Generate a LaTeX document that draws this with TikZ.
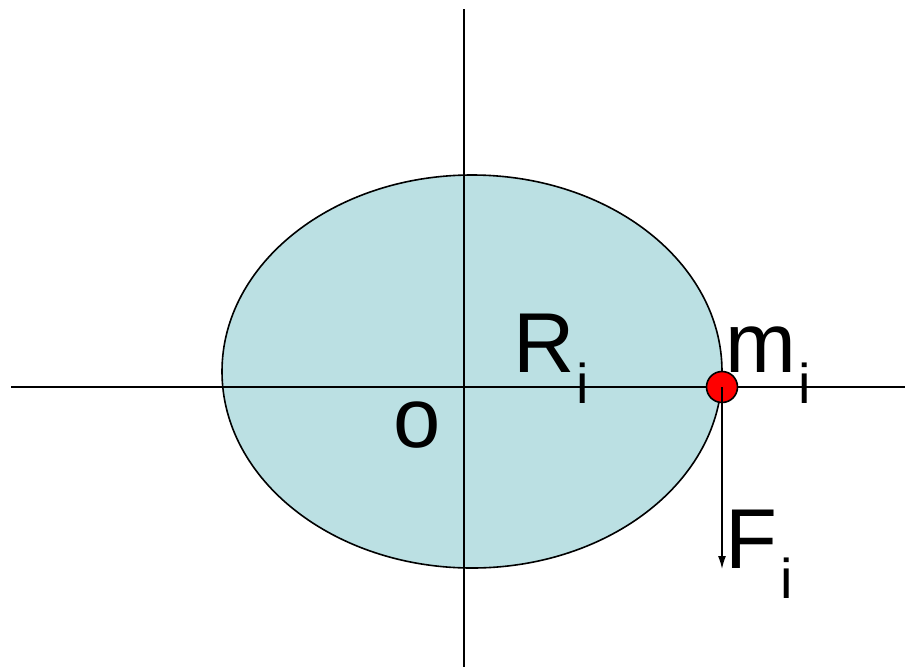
\documentclass[tikz,border=0pt]{standalone}
\usepackage{fontspec}
\setmainfont{Liberation Sans}
\usetikzlibrary{arrows.meta}
\definecolor{diskblue}{HTML}{BBE0E3}
\tikzset{
  axis/.style={line width=1.6pt, black},
  big/.style={anchor=base west, inner sep=0pt, font=\fontsize{85}{100}\selectfont},
  sub/.style={anchor=base west, inner sep=0pt, font=\fontsize{56}{66}\selectfont},
  force/.style={line width=1.4pt, -{Latex[length=13pt,width=8pt]}},
}
\begin{document}
\begin{tikzpicture}[x=1pt,y=-1pt]
\useasboundingbox (0,0) rectangle (905,667);
\draw[fill=diskblue, line width=1.6pt] (472,371.5) ellipse [x radius=250, y radius=196.5];
\coordinate (xl) at (11,387);
\coordinate (xr) at (905,387);
\coordinate (yt) at (464,9);
\coordinate (yb) at (464,667);
\draw[axis] (xl) -- (xr);
\draw[axis] (yt) -- (yb);
\node[circle, fill=red, draw=black, line width=1.6pt, minimum size=31pt, inner sep=0pt] (m) at (722,387) {};
\coordinate (ftip) at (722,569);
\draw[force] (m.center) -- (ftip);
\node[big] (R) at (513,372) {R};
\node[sub] (Ri) at (576,403) {i};
\node[big] (mi) at (725,372) {m};
\node[sub] (mis) at (798,403) {i};
\node[big] (o) at (393,447) {o};
\node[big] (F) at (725,568) {F};
\node[sub] (Fi) at (780,598) {i};
\end{tikzpicture}
\end{document}
